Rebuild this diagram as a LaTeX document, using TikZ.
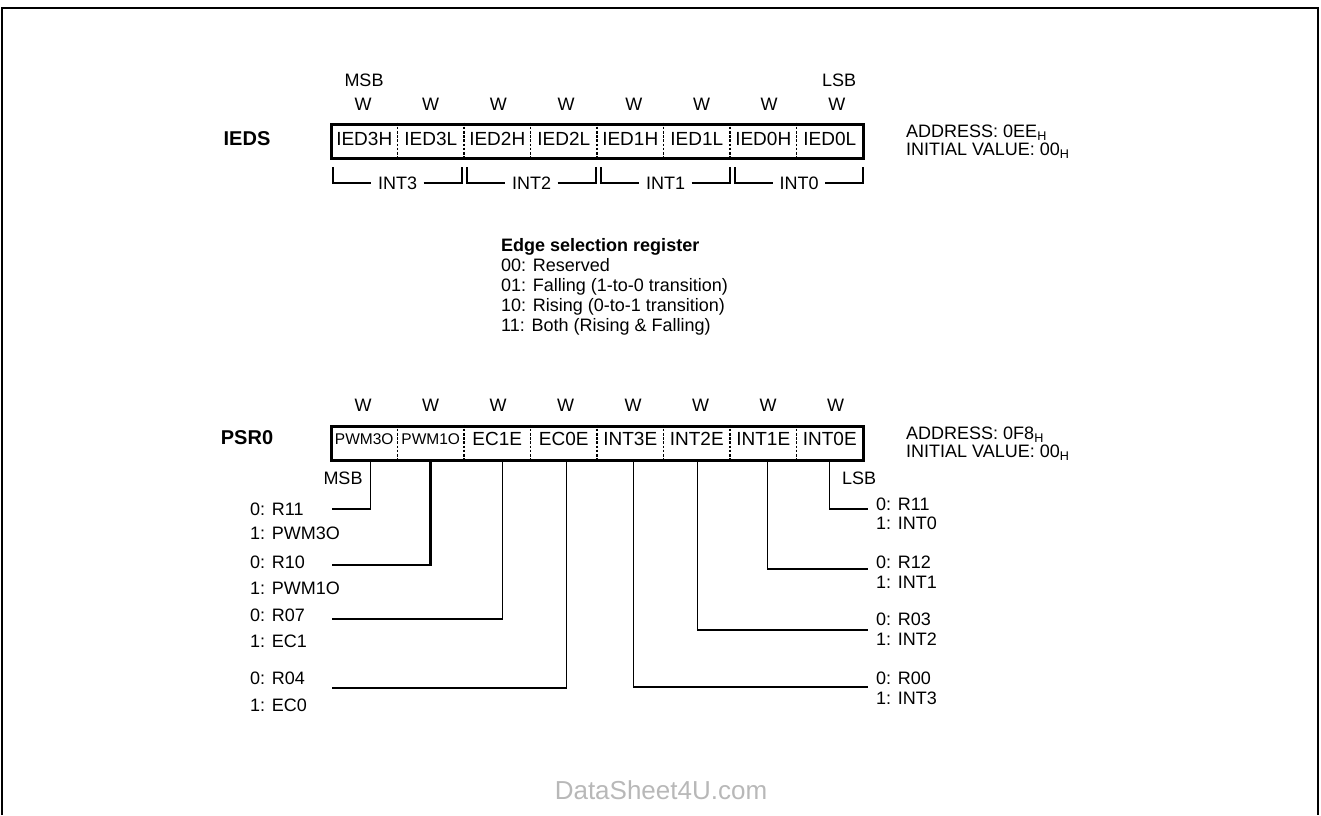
\documentclass[tikz,border=0pt]{standalone}
\usepackage{fontspec}
\setmainfont{Liberation Sans}
\usetikzlibrary{calc}
\begin{document}
\begin{tikzpicture}[x=1pt,y=-1pt,
  txt/.style={inner sep=0pt,font=\fontsize{18}{20}\selectfont},
  ttl/.style={inner sep=0pt,font=\fontsize{20}{22}\selectfont\bfseries},
  cell/.style={minimum width=66.5pt,inner sep=0pt,font=\fontsize{19}{20}\selectfont},
  regbox/.style={draw,line width=3pt,minimum width=532pt,minimum height=34pt,inner sep=0pt},
  sep/.style={line width=1.5pt,dash pattern=on 2.6pt off 1.6pt},
  conn/.style={line width=1.3pt},
  heavyconn/.style={line width=2.6pt},
  brk/.style={line width=1.2pt},
  frame/.style={line width=2pt},
  wmark/.style={text=black!28,inner sep=0pt,font=\fontsize{26}{28}\selectfont},
]
\useasboundingbox (0,0) rectangle (1321,815);
\draw[frame] (2,815) -- (2,8) -- (1318,8) -- (1318,815);

% ---------------- IEDS ----------------
\node[ttl,anchor=base] (iedsname) at (247,145) {IEDS};
\node[regbox] (ibox) at (597,141) {};
\foreach \n/\t [count=\k from 0] in {i7/IED3H,i6/IED3L,i5/IED2H,i4/IED2L,i3/IED1H,i2/IED1L,i1/IED0H,i0/IED0L}
  \node[cell] (\n) at ({364.25+66.5*\k},139) {\t};
\foreach \n in {i7,i6,i5,i4,i3,i2,i1}
  \draw[sep] (\n.east |- ibox.north) -- (\n.east |- ibox.south);
\foreach \n [count=\k from 0] in {i7,i6,i5,i4,i3,i2,i1,i0}
  \node[txt,anchor=base] (w\n) at ({363+67.7*\k},110.5) {W};
\node[txt,anchor=base] (imsb) at (364,86.5) {MSB};
\node[txt,anchor=base] (ilsb) at (839,86.5) {LSB};
\node[txt,anchor=base west] (iaddr) at (906,137.5) {ADDRESS: 0EE\textsubscript{H}};
\node[txt,anchor=base west] (iinit) at (906,155.5) {INITIAL VALUE: 00\textsubscript{H}};

\foreach \nm/\l/\r/\t in {g3/333/462/INT3,g2/467/596/INT2,g1/601/730/INT1,g0/735/863/INT0} {
  \coordinate (\nm-l) at (\l,167);
  \coordinate (\nm-r) at (\r,167);
  \node[txt,inner xsep=6.5pt] (\nm) at ({(\l+\r)/2},183) {\t};
  \draw[brk] (\nm-l) |- (\nm.west);
  \draw[brk] (\nm.east) -| (\nm-r);
}

% ---------------- Edge selection ----------------
\node[txt,anchor=base west,font=\fontsize{18}{20}\selectfont\bfseries] (e0) at (501,251.5) {Edge selection register};
\node[txt,anchor=base west] (e1) at (501,271.5) {00: Reserved};
\node[txt,anchor=base west] (e2) at (501,291.5) {01: Falling (1-to-0 transition)};
\node[txt,anchor=base west] (e3) at (501,311.5) {10: Rising (0-to-1 transition)};
\node[txt,anchor=base west] (e4) at (501,331.5) {11: Both (Rising \& Falling)};

% ---------------- PSR0 ----------------
\node[ttl,anchor=base] (psrname) at (247,444) {PSR0};
\node[regbox] (pbox) at (597,443) {};
\node[cell,font=\fontsize{15.5}{16}\selectfont] (p7) at (364.25,439) {PWM3O};
\node[cell,font=\fontsize{15.5}{16}\selectfont] (p6) at (430.75,439) {PWM1O};
\foreach \n/\t [count=\k from 2] in {p5/EC1E,p4/EC0E,p3/INT3E,p2/INT2E,p1/INT1E,p0/INT0E}
  \node[cell] (\n) at ({364.25+66.5*\k},439) {\t};
\foreach \n in {p7,p6,p5,p4,p3,p2,p1}
  \draw[sep] (\n.east |- pbox.north) -- (\n.east |- pbox.south);
\foreach \n [count=\k from 0] in {p7,p6,p5,p4,p3,p2,p1,p0}
  \node[txt,anchor=base] (w\n) at ({363+67.5*\k},411.5) {W};
\node[txt,anchor=base] (pmsb) at (343,484.5) {MSB};
\node[txt,anchor=base] (plsb) at (859,484.5) {LSB};
\node[txt,anchor=base west] (paddr) at (906,439.5) {ADDRESS: 0F8\textsubscript{H}};
\node[txt,anchor=base west] (pinit) at (906,457.5) {INITIAL VALUE: 00\textsubscript{H}};

% left side selections
\node[txt,anchor=base west] (l7a) at (250,515.5) {0: R11};
\node[txt,anchor=base west] (l7b) at (250,539.5) {1: PWM3O};
\node[txt,anchor=base west] (l6a) at (250,568.5) {0: R10};
\node[txt,anchor=base west] (l6b) at (250,594.5) {1: PWM1O};
\node[txt,anchor=base west] (l5a) at (250,621.5) {0: R07};
\node[txt,anchor=base west] (l5b) at (250,647.5) {1: EC1};
\node[txt,anchor=base west] (l4a) at (250,684.5) {0: R04};
\node[txt,anchor=base west] (l4b) at (250,711.5) {1: EC0};
\coordinate (c7) at (332,509);
\coordinate (c6) at (332,565);
\coordinate (c5) at (332,619);
\coordinate (c4) at (332,688);
\draw[conn] ($(p7 |- pbox.south)+(6,0)$) |- (c7);
\draw[heavyconn] ($(p6 |- pbox.south)+(0,0)$) |- (c6);
\draw[conn] ($(p5 |- pbox.south)+(5,0)$) |- (c5);
\draw[conn] ($(p4 |- pbox.south)+(3,0)$) |- (c4);

% right side selections
\node[txt,anchor=base west] (r0a) at (876,510.5) {0: R11};
\node[txt,anchor=base west] (r0b) at (876,529.5) {1: INT0};
\node[txt,anchor=base west] (r1a) at (876,568.5) {0: R12};
\node[txt,anchor=base west] (r1b) at (876,588.5) {1: INT1};
\node[txt,anchor=base west] (r2a) at (876,625.5) {0: R03};
\node[txt,anchor=base west] (r2b) at (876,645.5) {1: INT2};
\node[txt,anchor=base west] (r3a) at (876,684.5) {0: R00};
\node[txt,anchor=base west] (r3b) at (876,704.5) {1: INT3};
\coordinate (c0) at (868,509);
\coordinate (c1) at (868,569);
\coordinate (c2) at (868,630);
\coordinate (c3) at (868,687);
\draw[conn] ($(p0 |- pbox.south)+(0,0)$) |- (c0);
\draw[conn] ($(p1 |- pbox.south)+(4,0)$) |- (c1);
\draw[conn] ($(p2 |- pbox.south)+(1,0)$) |- (c2);
\draw[conn] ($(p3 |- pbox.south)+(3,0)$) |- (c3);

% watermark
\node[wmark] (wm) at (661,790) {DataSheet4U.com};
\end{tikzpicture}
\end{document}
